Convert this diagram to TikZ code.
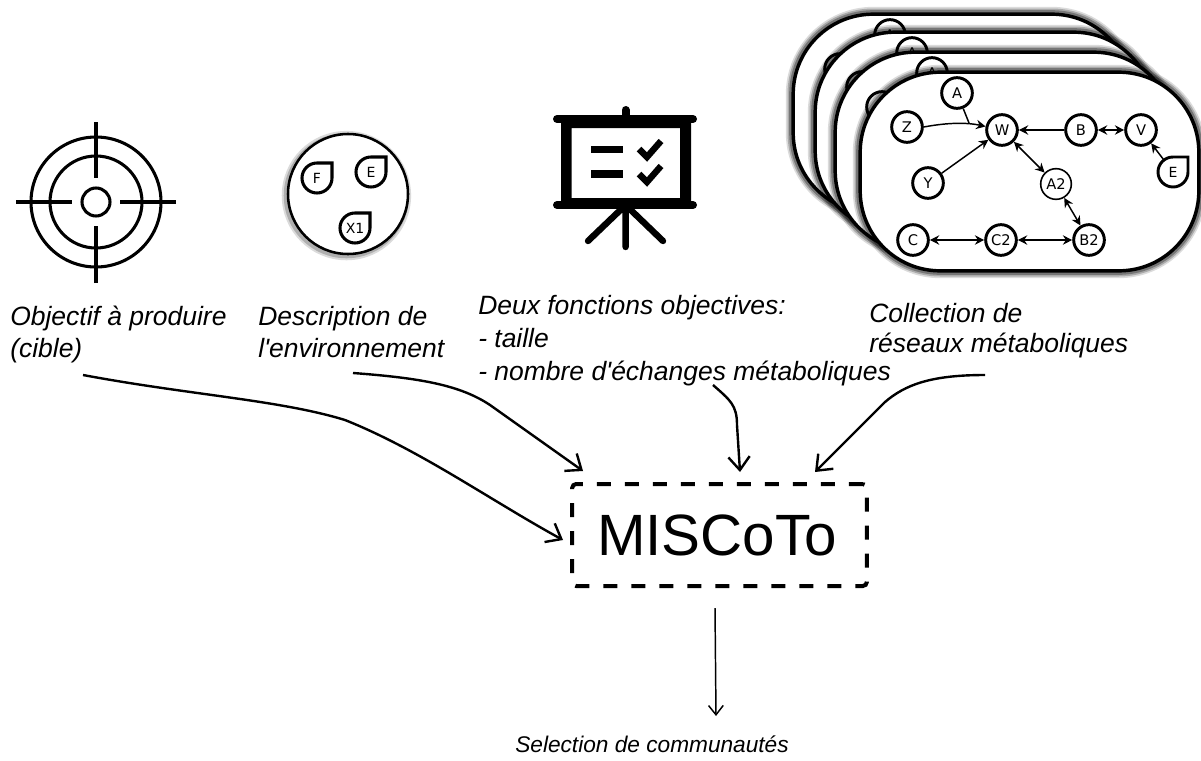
\documentclass[tikz,border=0pt]{standalone}
\usepackage{fontspec}
\setmainfont{Liberation Sans}
\newfontfamily\graphfont{DejaVu Sans}
\usetikzlibrary{arrows.meta,calc}
\tikzset{
  softhalo/.style={preaction={draw=black,draw opacity=.14,line width=11pt},
                   preaction={draw=black,draw opacity=.22,line width=8.5pt},
                   preaction={draw=black,draw opacity=.3,line width=6pt}},
  cardbox/.style={draw=black,fill=white,line width=2.6pt,rounded corners=60pt,
                  minimum width=254pt,minimum height=149pt,inner sep=0pt,softhalo},
  gnode/.style={circle,draw=black,fill=white,line width=2.2pt,minimum size=23pt,inner sep=0pt,
                font=\graphfont\fontsize{11}{13}\selectfont},
  thinnode/.style={gnode,line width=1.2pt},
  dropnode/.style={circle,minimum size=22pt,inner sep=0pt,font=\graphfont\fontsize{10.5}{12}\selectfont},
  gedge/.style={draw=black,line width=1.1pt,-{Stealth[length=7pt,width=7pt]}},
  gboth/.style={draw=black,line width=1.1pt,{Stealth[length=7pt,width=7pt]}-{Stealth[length=7pt,width=7pt]}},
  caption/.style={font=\itshape\fontsize{19.85}{24}\selectfont,align=left,inner sep=0pt,anchor=north west},
  flow/.style={draw=black,line width=1.8pt,-{Straight Barb[length=10pt,width=16pt]}},
  icon/.style={draw=black,line width=2.3pt},
  boardline/.style={draw=black,line width=6pt,line cap=round},
  boardthin/.style={draw=black,line width=4.8pt,line cap=round},
}
\newcommand{\droplet}[6][2.3pt]{%
  \node[dropnode] (#2) at (#3,#4) {#5};
  \draw[line width=#1,#6] ($(#2)+(15,0)$) -- ($(#2)+(15,-15)$) -- ($(#2)+(0,-15)$)
     arc[start angle=270,end angle=0,radius=15];
}
\begin{document}
\begin{tikzpicture}[x=.75pt,y=-.75pt]
\useasboundingbox[fill=white] (0,0) rectangle (1201,760);

% target
\coordinate (tc) at (96,202);
\draw[icon] (tc) circle[radius=65];
\draw[icon] (tc) circle[radius=46];
\draw[icon] (tc) circle[radius=14];
\coordinate (tl) at (16,202); \coordinate (tli) at (72,202);
\coordinate (tr) at (176,202); \coordinate (tri) at (120,202);
\coordinate (tt) at (96,122); \coordinate (tti) at (96,178);
\coordinate (tb) at (96,283); \coordinate (tbi) at (96,226);
\draw[icon] (tl)--(tli) (tr)--(tri) (tt)--(tti) (tb)--(tbi);

% environment
\node[circle,draw=black,fill=white,line width=1.9pt,minimum size=90pt,inner sep=0pt,
      preaction={draw=black,draw opacity=.2,line width=4pt,transform canvas={xshift=-1.2pt,yshift=-1.2pt}},
      preaction={draw=black,draw opacity=.14,line width=7pt,transform canvas={xshift=-1.2pt,yshift=-1.2pt}}] (env) at (348,194) {};
\droplet{envF}{317}{178}{F}{}
\droplet{envE}{371}{172}{E}{}
\droplet{envX}{355}{228}{X1}{}

% presentation board
\coordinate (pk) at (625.6,110); \coordinate (pktop) at (625.6,119);
\coordinate (ptl) at (557,119); \coordinate (ptr) at (693,119);
\coordinate (pbl) at (557,205); \coordinate (pbr) at (693,205);
\coordinate (pm) at (625.6,205);
\fill[black,even odd rule] (561,115) rectangle (691,205) (571.5,128) rectangle (680,198);
\draw[boardline] (pk)--(pktop) (ptl)--(ptr) (pbl)--(pbr);
\coordinate (legm) at (625.6,247); \coordinate (legl) at (588,241); \coordinate (legr) at (663,241);
\draw[boardthin] (pm)--(legm) (pm)--(legl) (pm)--(legr);
\coordinate (d1a) at (591,149.5); \coordinate (d1b) at (623,149.5);
\coordinate (d2a) at (591,174); \coordinate (d2b) at (623,174);
\draw[draw=black,line width=5.5pt] (d1a)--(d1b) (d2a)--(d2b);
\draw[draw=black,line width=4.8pt] (639,149)--(647,157)--(661,141) (639,174)--(647,182)--(661,166);

% back cards
\foreach \n/\dx/\dy in {1/-67/-58,2/-45/-40,3/-25/-20}{
  \node[cardbox] (card\n) at (1029.5+\dx,171.5+\dy) {};
  \node[gnode] (cardA\n) at (957+\dx,93+\dy) {A};
  \node[gnode] (cardZ\n) at (907+\dx,127+\dy) {Z};
}
% front card
\node[cardbox] (card4) at (1029.5,171.5) {};
\node[gnode] (A) at (957,93) {A};
\node[gnode] (Z) at (907,127) {Z};
\node[gnode] (W) at (1002,130) {W};
\node[gnode] (B) at (1081,130) {B};
\node[gnode] (V) at (1141,130) {V};
\node[gnode] (Y) at (928,183) {Y};
\node[thinnode] (A2) at (1056,184) {A2};
\node[gnode] (C) at (913,240) {C};
\node[gnode] (C2) at (1001,240) {C2};
\node[gnode] (B2) at (1089,240) {B2};
\droplet[2.2pt]{E}{1173}{172}{E}{}
\coordinate (merge) at (969,123);
\draw[draw=black,line width=1.1pt] (A)--(merge);
\draw[gedge] (Z.east) .. controls (945,123) and (965,122) .. (W);
\draw[gedge] (Y)--(W);
\draw[gedge] (B)--(W);
\draw[gedge] (E)--(V);
\draw[gboth] (B)--(V);
\draw[gboth] (W)--(A2);
\draw[gboth] (A2)--(B2);
\draw[gboth] (C)--(C2);
\draw[gboth] (C2)--(B2);

% captions
\node[caption] (cap1) at (10,306) {Objectif à produire\\(cible)};
\node[caption] (cap2) at (258,306) {Description de\\l\textquotesingle environnement};
\node[caption,font=\itshape\fontsize{19.85}{24.75}\selectfont] (cap3) at (478,295) {Deux fonctions objectives:\\- taille\\- nombre d\textquotesingle échanges métaboliques};
\node[caption,font=\itshape\fontsize{19.85}{22.5}\selectfont] (cap4) at (869,303) {Collection de\\réseaux métaboliques};
\node[font=\itshape\fontsize{17}{23}\selectfont,inner sep=0pt] (cap5) at (652,744) {Selection de communautés};

% main box
\node[draw=black,line width=3pt,dash pattern=on 10.5pt off 10.5pt,rounded corners=3pt,
      minimum width=221pt,minimum height=76.5pt,inner sep=0pt,
      font=\fontsize{43.7}{50}\selectfont] (box) at (719.5,535) {\hspace{-4pt}\raisebox{-1pt}{MISCoTo}};

% flows
\coordinate (s1) at (83,375); \coordinate (e1) at (563,540);
\coordinate (s2) at (353,373); \coordinate (e2) at (583,471);
\coordinate (s3) at (713,385); \coordinate (e3) at (740,472);
\coordinate (s4) at (985,375); \coordinate (e4) at (815,472);
\coordinate (s5) at (715,608); \coordinate (e5) at (716,716);
\draw[flow] (s1) .. controls (190,395) and (280,400) .. (345,420) .. controls (420,450) and (490,500) .. (e1);
\draw[flow] (s2) .. controls (420,378) and (460,385) .. (490,405) -- (e2);
\draw[flow] (s3) .. controls (730,400) and (737,405) .. (737,425) -- (e3);
\draw[flow] (s4) .. controls (930,375) and (905,385) .. (885,402) -- (e4);
\draw[draw=black,line width=1.1pt,-{Straight Barb[length=7pt,width=11pt]}] (s5)--(e5);
\end{tikzpicture}
\end{document}
